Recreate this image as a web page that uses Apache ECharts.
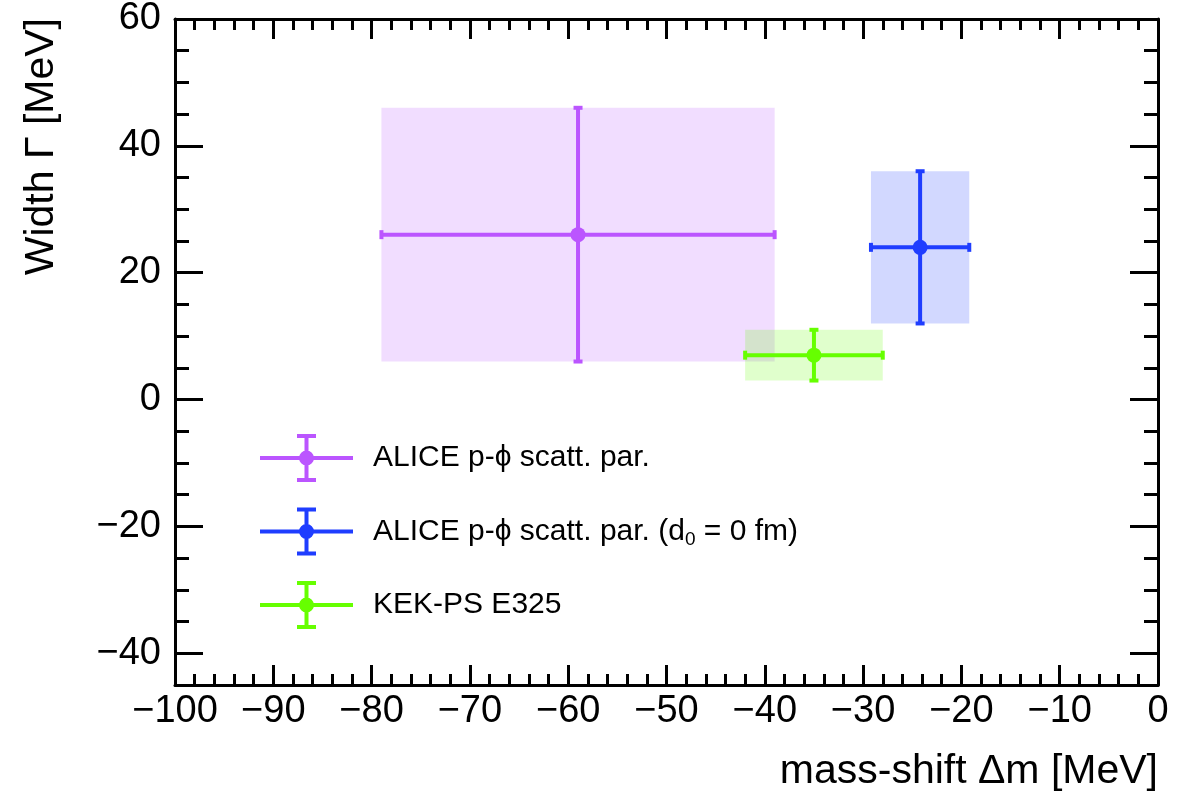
<!DOCTYPE html>
<html>
<head>
<meta charset="utf-8">
<script src="https://cdn.jsdelivr.net/npm/echarts@6/dist/echarts.min.js"></script>
<style>
html,body{margin:0;padding:0;background:#fff;}
#chart{width:1192px;height:792px;}
</style>
</head>
<body>
<div id="chart"></div>
<script>
// ---- data ----
const seriesNames = ['ALICE p-\u03D5 scatt. par.', 'ALICE p-\u03D5 scatt. par. (d0 = 0 fm)', 'KEK-PS E325'];
const massShift = [-59, -24.2, -35];      // x centre [MeV]
const widthGamma = [26, 24, 7];           // y centre [MeV]
const errMass = [20, 5, 7];               // x error half-width
const errWidth = [20, 12, 4];             // y error half-height
const sysMass = [20, 5, 7];               // box half-width
const sysWidth = [20, 12, 4];             // box half-height
const xTicks = [-100, -90, -80, -70, -60, -50, -40, -30, -20, -10, 0];
const yMajorTicks = [-40, -20, 0, 20, 40, 60];

const lineColors = ['#BB55FF', '#1F3DFF', '#66FF00'];
const boxColors = ['rgba(187,85,255,0.2)', 'rgba(31,61,255,0.2)', 'rgba(102,255,0,0.2)'];

const FONT = '"Liberation Sans", Arial, Helvetica, sans-serif';
const fmt = v => (v < 0 ? '\u2212' : '') + Math.abs(v);

function makeRender(color, fill) {
  return function (params, api) {
    const x = api.value(0), y = api.value(1);
    const ex = api.value(2), ey = api.value(3);
    const sx = api.value(4), sy = api.value(5);
    const c = api.coord([x, y]);
    const l = api.coord([x - ex, y]), r = api.coord([x + ex, y]);
    const t = api.coord([x, y + ey]), b = api.coord([x, y - ey]);
    const bl = api.coord([x - sx, y + sy]), br = api.coord([x + sx, y - sy]);
    const cap = 4.5, lw = 4;
    const ls = {stroke: color, lineWidth: lw};
    return {
      type: 'group',
      children: [
        {type: 'rect', shape: {x: bl[0], y: bl[1], width: br[0] - bl[0], height: br[1] - bl[1]}, style: {fill: fill}},
        {type: 'line', shape: {x1: l[0], y1: c[1], x2: r[0], y2: c[1]}, style: ls},
        {type: 'line', shape: {x1: c[0], y1: t[1], x2: c[0], y2: b[1]}, style: ls},
        {type: 'line', shape: {x1: l[0], y1: c[1] - cap, x2: l[0], y2: c[1] + cap}, style: ls},
        {type: 'line', shape: {x1: r[0], y1: c[1] - cap, x2: r[0], y2: c[1] + cap}, style: ls},
        {type: 'line', shape: {x1: c[0] - cap, y1: t[1], x2: c[0] + cap, y2: t[1]}, style: ls},
        {type: 'line', shape: {x1: c[0] - cap, y1: b[1], x2: c[0] + cap, y2: b[1]}, style: ls},
        {type: 'circle', shape: {cx: c[0], cy: c[1], r: 7.5}, style: {fill: color}}
      ]
    };
  };
}

const legendIcon = 'path://M0 22 H93 V26 H0 Z M44.5 4 H48.5 V44 H44.5 Z M37 0 H56 V4 H37 Z M37 44 H56 V48 H37 Z M54 24 A7.5 7.5 0 1 1 39 24 A7.5 7.5 0 1 1 54 24 Z';

const series = seriesNames.map((name, i) => ({
  name: name,
  type: 'custom',
  xAxisIndex: 0,
  yAxisIndex: 0,
  itemStyle: {color: lineColors[i]},
  renderItem: makeRender(lineColors[i], boxColors[i]),
  encode: {x: 0, y: 1},
  clip: true,
  data: [[massShift[i], widthGamma[i], errMass[i], errWidth[i], sysMass[i], sysWidth[i]]]
}));

const axisLineStyle = {show: true, onZero: false, lineStyle: {color: '#000', width: 3}};

function xAx(pos, labels) {
  return {
    type: 'value', position: pos, min: -100, max: 0, interval: 10,
    axisLine: axisLineStyle,
    axisTick: {show: true, inside: true, length: 20, lineStyle: {color: '#000', width: 3}},
    minorTick: {show: true, splitNumber: 5, length: 11, lineStyle: {color: '#000', width: 3}},
    splitLine: {show: false}, minorSplitLine: {show: false},
    axisLabel: labels ? {show: true, formatter: fmt, color: '#000', fontSize: 38, fontFamily: FONT, margin: 8,
      showMinLabel: true, showMaxLabel: true} : {show: false}
  };
}
function yMajor(pos, labels) {
  return {
    type: 'value', position: pos, min: -45, max: 60,
    axisLine: axisLineStyle,
    axisTick: {show: true, inside: true, length: 28, customValues: yMajorTicks, lineStyle: {color: '#000', width: 3}},
    minorTick: {show: false},
    splitLine: {show: false},
    axisLabel: labels ? {show: true, customValues: yMajorTicks, formatter: fmt, color: '#000', fontSize: 38,
      fontFamily: FONT, margin: 14} : {show: false}
  };
}
function yMinor(pos) {
  return {
    type: 'value', position: pos, min: -45, max: 60, interval: 5,
    axisLine: {show: false, onZero: false},
    axisTick: {show: true, inside: true, length: 14, lineStyle: {color: '#000', width: 3}},
    splitLine: {show: false},
    axisLabel: {show: false}
  };
}

const option = {
  backgroundColor: '#fff',
  animation: false,
  textStyle: {fontFamily: FONT},
  grid: {left: 175, right: 34, top: 18, bottom: 106, containLabel: false},
  xAxis: [
    Object.assign(xAx('bottom', true), {
      name: 'mass-shift \u0394m [MeV]', nameLocation: 'end', nameGap: 0,
      nameTextStyle: {fontSize: 41, color: '#000', fontFamily: FONT, align: 'right', verticalAlign: 'top', padding: [66, 0, 0, 0]}
    }),
    xAx('top', false)
  ],
  yAxis: [yMajor('left', true), yMinor('left'), yMajor('right', false), yMinor('right')],
  legend: {
    orient: 'vertical', left: 255, top: 429,
    itemWidth: 93, itemHeight: 48, itemGap: 25.5,
    selectedMode: false,
    data: seriesNames.map(n => ({name: n, icon: legendIcon})),
    formatter: n => n.replace('(d0', '(d{sub|0}'),
    textStyle: {
      fontSize: 30, color: '#000', fontFamily: FONT, padding: [0, 0, 0, 15],
      rich: {sub: {fontSize: 19, color: '#000', fontFamily: FONT, padding: [17, 0, 0, 0]}}
    }
  },
  graphic: [{
    type: 'text', x: 42, y: 18, rotation: Math.PI / 2,
    style: {text: 'Width \u0393 [MeV]', font: '41px ' + FONT, fill: '#000', align: 'right', verticalAlign: 'middle'}
  }],
  series: series
};

const chart = echarts.init(document.getElementById('chart'), null, {renderer: 'canvas'});
chart.setOption(option);
</script>
</body>
</html>
